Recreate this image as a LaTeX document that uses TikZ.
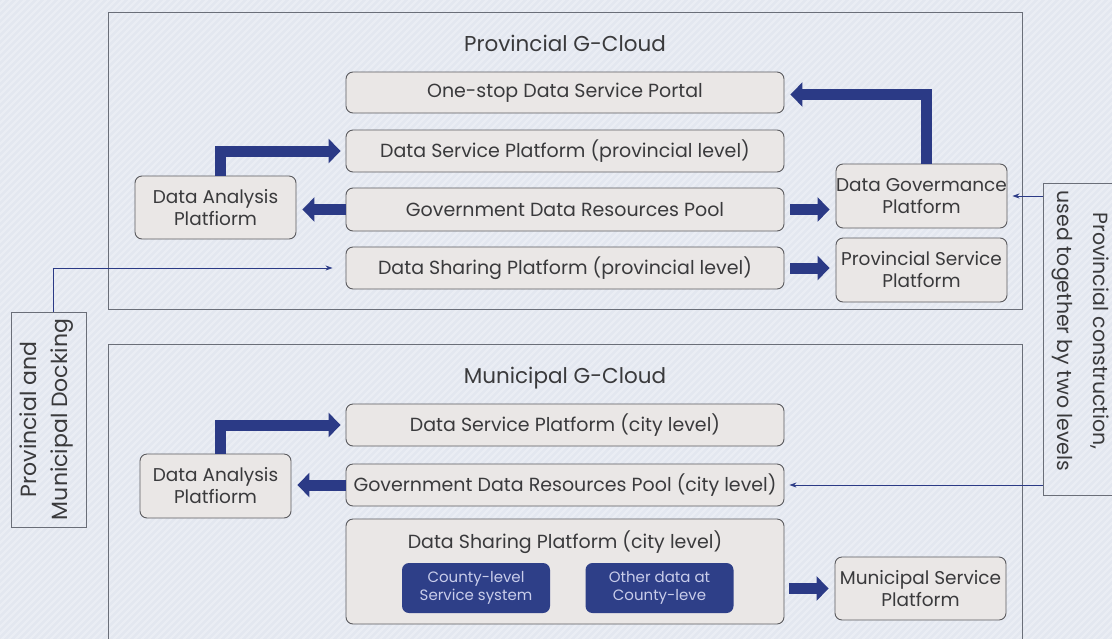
\documentclass[tikz,border=0pt]{standalone}
\usepackage{fontspec}
\setmainfont{Poppins}
\usetikzlibrary{arrows.meta}
\definecolor{bgc}{HTML}{E3E7F0}
\definecolor{stripe}{HTML}{EAEDF4}
\definecolor{frame}{HTML}{6A6E78}
\definecolor{boxfill}{HTML}{EAE7E6}
\definecolor{boxline}{HTML}{5A5A5E}
\definecolor{txt}{HTML}{3A3A3C}
\definecolor{navy}{HTML}{2B3A86}
\definecolor{darkbox}{HTML}{2E3F88}
\definecolor{lighttxt}{HTML}{C9CDEA}
\tikzset{
  box/.style={draw=boxline, fill=boxfill, rounded corners=7pt, line width=0.9pt,
    text=txt, align=center, inner sep=0pt, font=\fontsize{19}{22}\selectfont},
  smallbox/.style={box, font=\fontsize{18.5}{22}\selectfont},
  darkbx/.style={fill=darkbox, rounded corners=7pt, text=lighttxt, align=center,
    inner sep=0pt, minimum width=148pt, minimum height=50pt, font=\fontsize{15}{18}\selectfont},
  title/.style={text=txt, font=\fontsize{21.5}{25}\selectfont},
  fatarrow/.style={draw=navy, line width=11pt, -{Triangle[width=24pt,length=12pt]}},
  thinarrow/.style={draw=navy, line width=0.8pt, -{Stealth[length=7pt,width=5pt]}},
  framebox/.style={draw=frame, line width=1pt},
  sidebox/.style={draw=frame, line width=1pt, inner sep=0pt}
}
\begin{document}
\begin{tikzpicture}[x=1pt,y=-1pt]
\useasboundingbox (0,0) rectangle (1112,638);
\begin{scope}
\clip (0,0) rectangle (1112,638);
\fill[bgc] (-10,-10) rectangle (1122,648);
\foreach \i in {-700,-693,...,1120} {
  \draw[stripe, line width=2.4pt] (\i,648) -- (\i+658,-10);
}
% frames
\draw[framebox] (108,12) rectangle (1022,309);
\draw[framebox] (108,660) -- (108,344) -- (1022,344) -- (1022,660);
\node[sidebox, minimum width=100pt, minimum height=312pt, anchor=north west] (rbox) at (1043,183) {};
\end{scope}

\node[title] (ptitle) at (565,43) {Provincial G-Cloud};
\node[title] (mtitle) at (565,378) {Municipal G-Cloud};

% provincial
\node[box, minimum width=438pt, minimum height=41pt] (onestop) at (565,92.5) {One-stop Data Service Portal};
\node[box, minimum width=438pt, minimum height=42pt] (dspp) at (565,151) {Data Service Platform (provincial level)};
\node[box, minimum width=438pt, minimum height=43pt] (gdrp) at (565,209.5) {Government Data Resources Pool};
\node[box, minimum width=438pt, minimum height=42pt] (dshp) at (565,268) {Data Sharing Platform (provincial level)};
\node[smallbox, minimum width=161pt, minimum height=63pt] (dapp) at (215.5,207.5) {Data Analysis\\Platfiorm};
\node[smallbox, minimum width=171pt, minimum height=64pt] (gov) at (921.5,196) {Data Govermance\\Platform};
\node[smallbox, minimum width=171pt, minimum height=64pt] (psp) at (921.5,270) {Provincial Service\\Platform};

% municipal
\node[box, minimum width=438pt, minimum height=42pt] (dspc) at (565,425) {Data Service Platform (city level)};
\node[box, minimum width=438pt, minimum height=42pt] (gdrc) at (565,485) {Government Data Resources Pool (city level)};
\node[box, minimum width=438pt, minimum height=105pt] (dshc) at (565,571.5) {};
\node[text=txt, font=\fontsize{19}{22}\selectfont] (dshct) at (565,542) {Data Sharing Platform (city level)};
\node[darkbx] (cty1) at (476,588) {County-level\\Service system};
\node[darkbx] (cty2) at (659.5,588) {Other data at\\County-leve};
\node[smallbox, minimum width=151pt, minimum height=64pt] (dapc) at (215.5,486) {Data Analysis\\Platfiorm};
\node[smallbox, minimum width=171pt, minimum height=63pt] (msp) at (920.5,588.5) {Municipal Service\\Platform};

% side boxes
\node[sidebox, minimum width=75pt, minimum height=215pt] (dock) at (48.5,419.5) {};
\node[rotate=90, align=center, text=txt, font=\fontsize{22}{31}\selectfont] (docktxt) at ([xshift=-2pt]dock.center) {Provincial and\\Municipal Docking};
\node[rotate=-90, align=center, text=txt, font=\fontsize{20.5}{36}\selectfont] (rtxt) at (1081,331) {Provincial construction,\\used together by two levels};

% fat arrows
\draw[fatarrow, line join=miter, shorten >=5pt] ([xshift=4.5pt]dapp.north) |- (dspp.west);
\draw[fatarrow, shorten >=6pt] (gdrp.west) -- (gdrp.west -| dapp.east);
\draw[fatarrow, line join=miter, shorten >=6pt] ([xshift=5pt]gov.north) |- ([yshift=-2pt]onestop.east);
\draw[fatarrow, shorten <=6pt, shorten >=6pt] (gdrp.east) -- (gdrp.east -| gov.west);
\draw[fatarrow, shorten <=6pt, shorten >=6pt] (dshp.east) -- (dshp.east -| psp.west);

\draw[fatarrow, line join=miter, shorten >=5pt] ([xshift=4.5pt]dapc.north) |- (dspc.west);
\draw[fatarrow, shorten >=6pt] (gdrc.west) -- (gdrc.west -| dapc.east);
\draw[fatarrow, shorten <=5pt, shorten >=6pt] (dshc.east |- msp.west) -- (msp.west);

% thin arrows
\draw[thinarrow, shorten >=13pt] ([xshift=4.5pt]dock.north) |- (dshp.west);
\draw[thinarrow, shorten >=5pt] (rbox.west |- gov.east) -- (gov.east);
\draw[thinarrow, shorten >=5pt] (rbox.west |- gdrc.east) -- (gdrc.east);
\end{tikzpicture}
\end{document}
